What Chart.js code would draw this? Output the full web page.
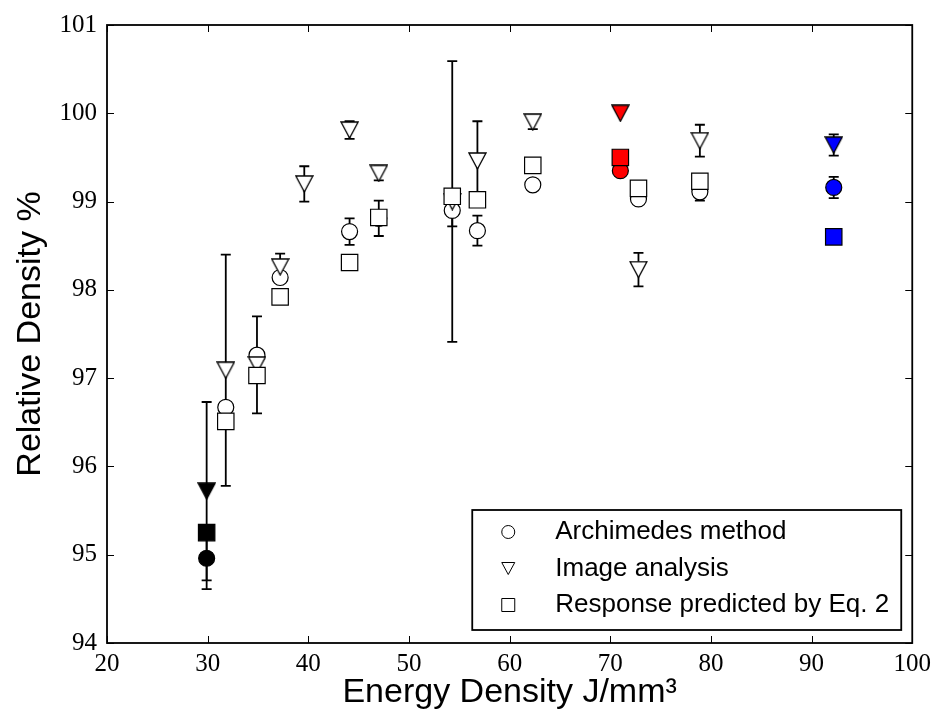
<!DOCTYPE html>
<html>
<head>
<meta charset="utf-8">
<script src="https://cdn.jsdelivr.net/npm/chart.js@4.4.1/dist/chart.umd.min.js"></script>
<style>
  html, body { margin: 0; padding: 0; background: #fff; }
</style>
</head>
<body>
<canvas id="densityChart" width="937" height="720"></canvas>
<script>
// energy density (J/mm3) vs relative density (%)
var archX   = [29.9, 31.8, 34.9, 37.2, 44.1, 47.0, 54.3, 56.8, 62.3, 71.0, 72.8, 78.9, 92.2];
var archY   = [94.96, 96.67, 97.26, 98.14, 98.66, 98.81, 98.90, 98.67, 99.19, 99.35, 99.03, 99.11, 99.16];
var archErr = [0.35, 0, 0, 0, 0.15, 0.20, 0.18, 0.17, 0, 0, 0, 0.10, 0.12];

var imgX   = [29.9, 31.8, 34.9, 37.2, 39.6, 44.1, 47.0, 54.3, 56.8, 62.3, 71.0, 72.8, 78.9, 92.2];
var imgY   = [95.72, 97.09, 97.15, 98.26, 99.20, 99.81, 99.32, 99.00, 99.46, 99.90, 100.0, 98.23, 99.69, 99.64];
var imgErr = [1.01, 1.31, 0.55, 0.15, 0.20, 0.10, 0.08, 1.59, 0.45, 0.08, 0, 0.19, 0.18, 0.12];

var predX = [29.9, 31.8, 34.9, 37.2, 44.1, 47.0, 54.3, 56.8, 62.3, 71.0, 72.8, 78.9, 92.2];
var predY = [95.25, 96.51, 97.03, 97.92, 98.31, 98.82, 99.06, 99.02, 99.41, 99.50, 99.15, 99.23, 98.60];

var xTicks = [20, 30, 40, 50, 60, 70, 80, 90, 100];
var yTicks = [94, 95, 96, 97, 98, 99, 100, 101];

// filled samples: black / red / blue, everything else open
var highlight = { '29.9': '#000000', '71': '#ff0000', '92.2': '#0000ff' };
function fillFor(x) { return highlight[String(x)] || '#ffffff'; }

function toPoints(xs, ys) {
    return xs.map(function (x, i) { return { x: x, y: ys[i] }; });
}

// downward triangle, centred on its bounding box like matplotlib 'v'
function triangleMark(fill, w, h) {
    var c = document.createElement('canvas');
    c.width = w + 2;
    c.height = h + 2;
    var g = c.getContext('2d');
    g.beginPath();
    g.moveTo(1, 1);
    g.lineTo(w + 1, 1);
    g.lineTo(w / 2 + 1, h + 1);
    g.closePath();
    g.fillStyle = fill;
    g.fill();
    g.strokeStyle = '#000';
    g.lineWidth = 1.3;
    g.stroke();
    return c;
}
var triMarks = {};
['#ffffff', '#000000', '#ff0000', '#0000ff'].forEach(function (c) {
    triMarks[c] = triangleMark(c, 17, 16);
});

var errorBars = {
    id: 'errorBars',
    beforeDatasetsDraw: function (chart) {
        var ctx = chart.ctx, xs = chart.scales.x, ys = chart.scales.y;
        ctx.save();
        ctx.strokeStyle = '#000';
        ctx.lineWidth = 1.8;
        chart.data.datasets.forEach(function (ds) {
            if (!ds.errors) return;
            ds.data.forEach(function (p, i) {
                var e = ds.errors[i];
                if (!e) return;
                var px = xs.getPixelForValue(p.x);
                var y1 = ys.getPixelForValue(p.y + e);
                var y2 = ys.getPixelForValue(p.y - e);
                ctx.beginPath();
                ctx.moveTo(px, y1); ctx.lineTo(px, y2);
                ctx.moveTo(px - 5, y1); ctx.lineTo(px + 5, y1);
                ctx.moveTo(px - 5, y2); ctx.lineTo(px + 5, y2);
                ctx.stroke();
            });
        });
        ctx.restore();
    }
};

var frameAndLegend = {
    id: 'frameAndLegend',
    afterDraw: function (chart) {
        var ctx = chart.ctx, a = chart.chartArea;
        var xs = chart.scales.x, ys = chart.scales.y;
        ctx.save();
        ctx.strokeStyle = '#000';
        ctx.lineWidth = 1.8;
        ctx.strokeRect(a.left, a.top, a.right - a.left, a.bottom - a.top);
        // inward ticks on all four sides
        ctx.lineWidth = 1;
        ctx.beginPath();
        xTicks.forEach(function (v) {
            var px = Math.round(xs.getPixelForValue(v)) + 0.5;
            ctx.moveTo(px, a.bottom); ctx.lineTo(px, a.bottom - 7);
            ctx.moveTo(px, a.top); ctx.lineTo(px, a.top + 7);
        });
        yTicks.forEach(function (v) {
            var py = Math.round(ys.getPixelForValue(v)) + 0.5;
            ctx.moveTo(a.left, py); ctx.lineTo(a.left + 7, py);
            ctx.moveTo(a.right, py); ctx.lineTo(a.right - 7, py);
        });
        ctx.stroke();

        // legend box in the lower right corner
        var bw = 429, bh = 120;
        var bx = a.right - 11 - bw, by = a.bottom - 13 - bh;
        ctx.fillStyle = '#fff';
        ctx.fillRect(bx, by, bw, bh);
        ctx.lineWidth = 1.8;
        ctx.strokeRect(bx, by, bw, bh);
        ctx.font = '26px "Liberation Sans", Arial, sans-serif';
        ctx.textBaseline = 'middle';
        ctx.textAlign = 'left';
        chart.data.datasets.forEach(function (ds, i) {
            var cy = by + 22 + i * 36.5;
            var cx = bx + 36;
            ctx.lineWidth = 1;
            ctx.fillStyle = '#fff';
            ctx.beginPath();
            if (i === 0) {
                ctx.arc(cx, cy, 6.5, 0, Math.PI * 2);
            } else if (i === 1) {
                ctx.moveTo(cx - 6.5, cy - 6); ctx.lineTo(cx + 6.5, cy - 6); ctx.lineTo(cx, cy + 6);
                ctx.closePath();
            } else {
                ctx.rect(cx - 6.5, cy - 6.5, 13, 13);
            }
            ctx.fill();
            ctx.stroke();
            ctx.fillStyle = '#000';
            ctx.fillText(ds.label, bx + 83, cy);
        });
        ctx.restore();
    }
};

var ctx = document.getElementById('densityChart').getContext('2d');
var densityChart = new Chart(ctx, {
    type: 'scatter',
    data: {
        datasets: [{
            label: 'Archimedes method',
            data: toPoints(archX, archY),
            errors: archErr,
            pointStyle: 'circle',
            pointRadius: 8,
            backgroundColor: archX.map(fillFor),
            borderColor: '#000',
            borderWidth: 1.2,
            order: 3
        }, {
            label: 'Image analysis',
            data: toPoints(imgX, imgY),
            errors: imgErr,
            pointStyle: imgX.map(function (x) { return triMarks[fillFor(x)]; }),
            pointRadius: 8,
            backgroundColor: imgX.map(fillFor),
            borderColor: '#000',
            borderWidth: 1,
            order: 2
        }, {
            label: 'Response predicted by Eq. 2',
            data: toPoints(predX, predY),
            pointStyle: 'rect',
            pointRadius: 11.6,
            backgroundColor: predX.map(fillFor),
            borderColor: '#000',
            borderWidth: 1.2,
            order: 1
        }]
    },
    options: {
        responsive: false,
        devicePixelRatio: 1,
        animation: false,
        events: [],
        layout: { padding: { top: 19, right: 23, left: 0, bottom: 0 } },
        plugins: {
            legend: { display: false },
            tooltip: { enabled: false }
        },
        scales: {
            x: {
                type: 'linear',
                min: 20,
                max: 100,
                afterBuildTicks: function (s) { s.ticks = xTicks.map(function (v) { return { value: v }; }); },
                afterFit: function (s) { s.height = 77; },
                grid: { display: false, drawTicks: false },
                border: { display: false },
                ticks: {
                    padding: 6,
                    color: '#000',
                    font: { family: '"Liberation Serif", "DejaVu Serif", serif', size: 25 }
                },
                title: {
                    display: true,
                    text: 'Energy Density J/mm³',
                    color: '#000',
                    padding: { top: 0, bottom: 7 },
                    font: { family: '"Liberation Sans", Arial, sans-serif', size: 34 }
                }
            },
            y: {
                type: 'linear',
                min: 94,
                max: 101,
                afterBuildTicks: function (s) { s.ticks = yTicks.map(function (v) { return { value: v }; }); },
                afterFit: function (s) { s.width = 107; },
                grid: { display: false, drawTicks: false },
                border: { display: false },
                ticks: {
                    padding: 10,
                    color: '#000',
                    font: { family: '"Liberation Serif", "DejaVu Serif", serif', size: 25 }
                },
                title: {
                    display: true,
                    text: 'Relative Density %',
                    color: '#000',
                    padding: { top: 10, bottom: 0 },
                    font: { family: '"Liberation Sans", Arial, sans-serif', size: 34 }
                }
            }
        }
    },
    plugins: [errorBars, frameAndLegend]
});
</script>
</body>
</html>
